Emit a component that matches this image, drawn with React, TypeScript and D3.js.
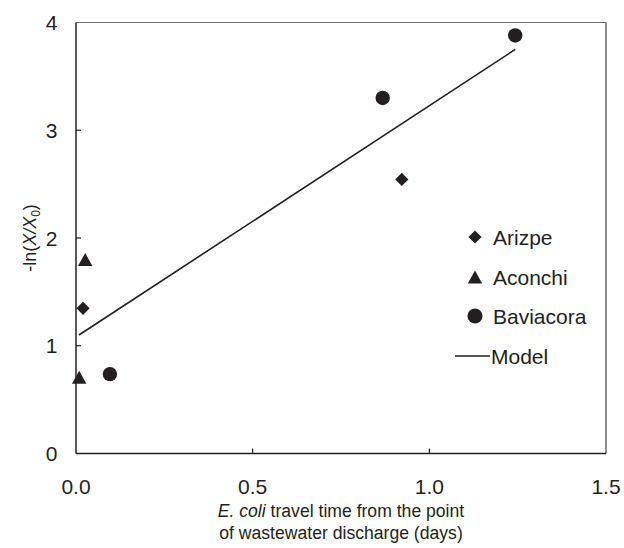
import React from "react";
import * as d3 from "d3";

const xTicks = [0, 0.5, 1.0, 1.5];
const yTicks = [0, 1, 2, 3, 4];

const arizpeX = [0.02, 0.922];
const arizpeY = [1.347, 2.544];
const aconchiX = [0.009, 0.026];
const aconchiY = [0.707, 1.8];
const baviacoraX = [0.096, 0.868, 1.243];
const baviacoraY = [0.737, 3.3, 3.88];
const modelX = [0.0085, 1.243];
const modelY = [1.1, 3.75];

const legendLabels = ["Arizpe", "Aconchi", "Baviacora", "Model"];

const W = 624;
const H = 548;
const L = 76, R = 606, T = 22.5, B = 453.5;
const INK = "#231f20";
const FONT = "Arial, 'Liberation Sans', sans-serif";

function Marker({ kind, x, y, s = 1 }: { kind: string; x: number; y: number; s?: number }) {
  if (kind === "diamond") {
    const r = 6.6 * s;
    return <path d={`M${x},${y - r}L${x + r},${y}L${x},${y + r}L${x - r},${y}Z`} fill={INK} />;
  }
  if (kind === "triangle") {
    const w = 7.2 * s, h = 6.5 * s;
    return <path d={`M${x},${y - h}L${x + w},${y + h}L${x - w},${y + h}Z`} fill={INK} />;
  }
  return <circle cx={x} cy={y} r={7.2 * s} fill={INK} />;
}

export default function App() {
  const x = d3.scaleLinear().domain([0, 1.5]).range([L, R]);
  const y = d3.scaleLinear().domain([0, 4]).range([B, T]);
  const line = d3.line<number>().x((d, i) => x(modelX[i])).y((d, i) => y(modelY[i]));

  const legendX = 475;
  const legendY = [237, 277, 316, 356];
  const titleX = (L + R) / 2;

  return (
    <div style={{ position: "absolute", left: 0, top: 0 }}>
      <svg width={W} height={H} style={{ display: "block", background: "#fff" }} fontFamily={FONT}>
        {/* frame */}
        <line x1={L} x2={R} y1={T} y2={T} stroke="#6d6e71" strokeWidth={1.2} />
        <line x1={R} x2={R} y1={T} y2={B} stroke="#414042" strokeWidth={1.2} />
        <line x1={L} x2={L} y1={T} y2={B} stroke={INK} strokeWidth={1.5} />
        <line x1={L} x2={R} y1={B} y2={B} stroke={INK} strokeWidth={1.5} />

        {/* y ticks */}
        {yTicks.map((t) => (
          <g key={"y" + t}>
            {t > 0 && t < 4 && <line x1={L} x2={L + 5} y1={y(t)} y2={y(t)} stroke={INK} strokeWidth={1.2} />}
            <text x={57.5} y={y(t)} dy="0.36em" textAnchor="end" fontSize={21} fill={INK}>
              {d3.format("d")(t)}
            </text>
          </g>
        ))}

        {/* x ticks */}
        {xTicks.map((t) => (
          <g key={"x" + t}>
            {t > 0 && t < 1.5 && <line x1={x(t)} x2={x(t)} y1={B} y2={B - 5} stroke={INK} strokeWidth={1.2} />}
            <text x={x(t)} y={494} textAnchor="middle" fontSize={21} fill={INK}>
              {d3.format(".1f")(t)}
            </text>
          </g>
        ))}

        {/* axis titles */}
        <text x={titleX} y={517} textAnchor="middle" fontSize={17.6} fill={INK}>
          <tspan fontStyle="italic">E. coli</tspan>
          <tspan> travel time from the point</tspan>
        </text>
        <text x={titleX} y={539} textAnchor="middle" fontSize={17.6} fill={INK}>
          of wastewater discharge (days)
        </text>
        <text
          transform={`translate(36,${(T + B) / 2}) rotate(-90)`}
          textAnchor="middle"
          fontSize={18}
          fill={INK}
        >
          <tspan>-ln(</tspan>
          <tspan fontStyle="italic">X/X</tspan>
          <tspan fontSize={12} dy={4}>0</tspan>
          <tspan dy={-4}>)</tspan>
        </text>

        {/* model line */}
        <path d={line(modelX) || ""} fill="none" stroke={INK} strokeWidth={1.6} />

        {/* points */}
        {arizpeX.map((v, i) => (
          <Marker key={"a" + i} kind="diamond" x={x(v)} y={y(arizpeY[i])} />
        ))}
        {aconchiX.map((v, i) => (
          <Marker key={"c" + i} kind="triangle" x={x(v)} y={y(aconchiY[i])} />
        ))}
        {baviacoraX.map((v, i) => (
          <Marker key={"b" + i} kind="circle" x={x(v)} y={y(baviacoraY[i])} />
        ))}

        {/* legend */}
        <Marker kind="diamond" x={legendX} y={legendY[0]} s={1.0} />
        <Marker kind="triangle" x={legendX} y={legendY[1]} s={1.0} />
        <Marker kind="circle" x={legendX} y={legendY[2]} s={1.05} />
        <line x1={455} x2={490} y1={legendY[3]} y2={legendY[3]} stroke={INK} strokeWidth={1.6} />
        {legendLabels.map((lab, i) => (
          <text key={lab} x={i === 3 ? 491 : 493} y={legendY[i]} dy="0.36em" fontSize={21} fill={INK}>
            {lab}
          </text>
        ))}
      </svg>
    </div>
  );
}
